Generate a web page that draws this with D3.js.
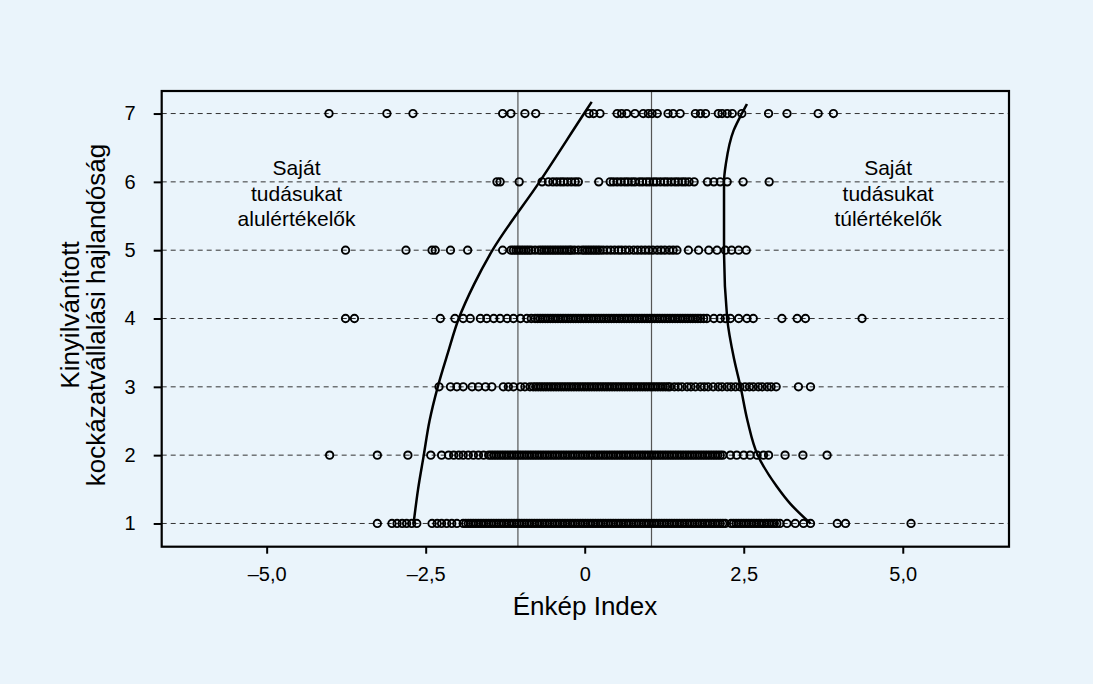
<!DOCTYPE html>
<html lang="hu">
<head>
<meta charset="utf-8">
<script src="https://cdn.jsdelivr.net/npm/d3@7"></script>
<style>
  html, body { margin: 0; padding: 0; background: #eaf4fb; }
  svg { display: block; font-family: "Liberation Sans", Arial, Helvetica, sans-serif; }
</style>
</head>
<body>
<div id="chart"></div>
<script>
// Kinyilvánított kockázatvállalási hajlandóság (1–7) vs. Énkép Index
const categories = [1, 2, 3, 4, 5, 6, 7];

const row1 = [-3.26, -3.03, -2.95, -2.87, -2.80, -2.72, -2.64, -2.40, -2.32, -2.25, -2.17, -2.09, -2.01,
  -1.91, -1.87, -1.83, -1.79, -1.75, -1.71, -1.67, -1.63, -1.59, -1.55, -1.51, -1.47, -1.43, -1.39, -1.35,
  -1.31, -1.27, -1.23, -1.19, -1.15, -1.11, -1.07, -1.03, -0.99, -0.95, -0.91, -0.87, -0.83, -0.79, -0.75,
  -0.71, -0.67, -0.63, -0.59, -0.55, -0.51, -0.47, -0.43, -0.39, -0.35, -0.31, -0.27, -0.23, -0.19, -0.15,
  -0.11, -0.07, -0.03, 0.01, 0.05, 0.09, 0.13, 0.17, 0.21, 0.25, 0.29, 0.33, 0.37, 0.41, 0.45, 0.49, 0.53,
  0.57, 0.61, 0.65, 0.69, 0.73, 0.77, 0.81, 0.85, 0.89, 0.93, 0.97, 1.01, 1.05, 1.09, 1.13, 1.17, 1.21,
  1.25, 1.29, 1.33, 1.37, 1.41, 1.45, 1.49, 1.53, 1.57, 1.61, 1.65, 1.69, 1.73, 1.77, 1.81, 1.85, 1.89,
  1.93, 1.97, 2.01, 2.05, 2.09, 2.13, 2.17, 2.21,
  2.30, 2.34, 2.38, 2.42, 2.46, 2.50, 2.54, 2.58, 2.62, 2.66, 2.70, 2.74, 2.78, 2.82, 2.86, 2.90, 2.94,
  2.98, 3.02, 3.07, 3.18, 3.31, 3.44, 3.55, 3.97, 4.10, 5.13];

const row2 = [-4.01, -3.26, -2.78, -2.42, -2.25, -2.14, -2.06, -1.98, -1.91, -1.83, -1.75, -1.67, -1.59,
  -1.51, -1.47, -1.43, -1.39, -1.35, -1.31, -1.27, -1.23, -1.19, -1.15, -1.11, -1.07, -1.03, -0.99, -0.95,
  -0.91, -0.87, -0.83, -0.79, -0.75, -0.71, -0.67, -0.63, -0.59, -0.55, -0.51, -0.47, -0.43, -0.39, -0.35,
  -0.31, -0.27, -0.23, -0.19, -0.15, -0.11, -0.07, -0.03, 0.01, 0.05, 0.09, 0.13, 0.17, 0.21, 0.25, 0.29,
  0.33, 0.37, 0.41, 0.45, 0.49, 0.53, 0.57, 0.61, 0.65, 0.69, 0.73, 0.77, 0.81, 0.85, 0.89, 0.93, 0.97,
  1.01, 1.05, 1.09, 1.13, 1.17, 1.21, 1.25, 1.29, 1.33, 1.37, 1.41, 1.45, 1.49, 1.53, 1.57, 1.61, 1.65,
  1.69, 1.73, 1.77, 1.81, 1.85, 1.89, 1.93, 1.97, 2.01, 2.05, 2.09, 2.13, 2.17,
  2.29, 2.39, 2.50, 2.60, 2.71, 2.81, 2.89, 3.15, 3.43, 3.81];

const row3 = [-2.29, -2.11, -2.01, -1.91, -1.77, -1.67, -1.56, -1.46, -1.28, -1.20, -1.12, -1.01, -0.94, -0.86,
  -0.81, -0.77, -0.73, -0.69, -0.65, -0.61, -0.57, -0.53, -0.49, -0.45, -0.41, -0.37, -0.33, -0.29, -0.25,
  -0.21, -0.17, -0.13, -0.09, -0.05, -0.01, 0.03, 0.07, 0.11, 0.15, 0.19, 0.23, 0.27, 0.31, 0.35, 0.39,
  0.43, 0.47, 0.51, 0.55, 0.59, 0.63, 0.67, 0.71, 0.75, 0.79, 0.83, 0.87, 0.91, 0.95, 0.99, 1.03, 1.07,
  1.11, 1.15, 1.19, 1.23, 1.27, 1.31, 1.34,
  1.41, 1.47, 1.53, 1.61, 1.67, 1.74, 1.82, 1.88, 1.94, 2.02, 2.10, 2.16, 2.24, 2.30, 2.37, 2.44, 2.52,
  2.59, 2.65, 2.73, 2.79, 2.87, 2.93, 3.01, 3.36, 3.55];

const row4 = [-3.76, -3.62, -2.27, -2.04, -1.91, -1.80, -1.64, -1.54, -1.43, -1.33, -1.22, -1.12, -1.01, -0.91, -0.84,
  -0.78, -0.74, -0.70, -0.66, -0.62, -0.58, -0.54, -0.50, -0.46, -0.42, -0.38, -0.34, -0.30, -0.26, -0.22,
  -0.18, -0.14, -0.10, -0.06, -0.02, 0.02, 0.06, 0.10, 0.14, 0.18, 0.22, 0.26, 0.30, 0.34, 0.38, 0.42,
  0.46, 0.50, 0.54, 0.58, 0.62, 0.66, 0.70, 0.74, 0.78, 0.82, 0.86, 0.90, 0.94, 0.98, 1.02, 1.06, 1.10,
  1.14, 1.18, 1.22, 1.26, 1.30, 1.34, 1.38, 1.42, 1.46, 1.50, 1.54, 1.58, 1.62, 1.66, 1.70, 1.74, 1.78,
  1.82, 1.87, 1.92, 2.03, 2.13, 2.21, 2.29, 2.42, 2.55, 2.65, 3.10, 3.34, 3.47, 4.36];

const row5 = [-3.76, -2.81, -2.40, -2.35, -2.11, -1.84, -1.29, -1.16,
  -1.12, -1.08, -1.04, -1.00, -0.96, -0.92, -0.88, -0.84, -0.78, -0.72, -0.68, -0.64, -0.60, -0.56, -0.52,
  -0.48, -0.44, -0.40, -0.36, -0.32, -0.28, -0.24, -0.21, -0.16, -0.10, -0.04, 0.00, 0.04, 0.08, 0.12,
  0.16, 0.20, 0.24, 0.29, 0.35, 0.41, 0.47, 0.53, 0.58, 0.64, 0.70, 0.77, 0.83, 0.89, 0.95, 1.01, 1.07,
  1.14, 1.20, 1.26, 1.33, 1.39, 1.45, 1.63, 1.79, 1.95, 2.08, 2.21, 2.31, 2.42, 2.54];

const row6 = [-1.38, -1.33, -1.03, -0.67, -0.57, -0.50, -0.44, -0.38, -0.33, -0.27, -0.21, -0.15, -0.10,
  0.22, 0.40, 0.45, 0.51, 0.57, 0.63, 0.68, 0.74, 0.79, 0.86, 0.91, 0.97, 1.02, 1.08, 1.13, 1.19, 1.25,
  1.30, 1.36, 1.42, 1.47, 1.53, 1.58, 1.64, 1.72, 1.93, 2.03, 2.13, 2.24, 2.49, 2.90];

const row7 = [-4.02, -3.11, -2.70, -1.29, -1.16, -0.94, -0.77, 0.07, 0.14, 0.24, 0.51, 0.58, 0.66, 0.79,
  0.92, 1.00, 1.06, 1.14, 1.31, 1.39, 1.50, 1.74, 1.82, 1.90, 2.10, 2.16, 2.24, 2.32, 2.47, 2.89, 3.18,
  3.67, 3.91];

const rows = [row1, row2, row3, row4, row5, row6, row7];

// Boundary curves: [level, index value]
const lowerBound = [[1.0, -2.69], [1.5, -2.62], [2.0, -2.53], [2.5, -2.44], [3.0, -2.31], [3.5, -2.15],
  [4.0, -1.98], [4.5, -1.74], [5.0, -1.45], [6.0, -0.71], [7.0, -0.01], [7.17, 0.11]];
const upperBound = [[1.0, 3.55], [1.29, 3.23], [1.54, 3.02], [2.0, 2.72], [2.5, 2.56], [3.0, 2.45],
  [3.4, 2.35], [4.0, 2.24], [5.0, 2.19], [6.0, 2.19], [6.27, 2.22], [6.75, 2.34], [7.0, 2.47], [7.14, 2.55]];

// Vertical reference lines at ±1,05
const refLines = [-1.05, 1.05];

const xTicks = [-5, -2.5, 0, 2.5, 5];
const xTickLabels = ["–5,0", "–2,5", "0", "2,5", "5,0"];
const yTicks = [1, 2, 3, 4, 5, 6, 7];

const xDomain = [-6.65, 6.67];
const yDomain = [0.66, 7.33];

const W = 1093, H = 684;
const plot = { left: 161.7, right: 1009, top: 91, bottom: 546.7 };

const svg = d3.select("#chart").append("svg")
  .attr("width", W).attr("height", H);

svg.append("rect").attr("width", W).attr("height", H).attr("fill", "#eaf4fb");

const x = d3.scaleLinear().domain(xDomain).range([plot.left, plot.right]);
const y = d3.scaleLinear().domain(yDomain).range([plot.bottom, plot.top]);

// dashed category lines
svg.append("g").selectAll("line").data(categories).join("line")
  .attr("x1", plot.left).attr("x2", plot.right)
  .attr("y1", d => y(d)).attr("y2", d => y(d))
  .attr("stroke", "#333").attr("stroke-width", 1)
  .attr("stroke-dasharray", "5,4");

// vertical reference lines
svg.append("g").selectAll("line").data(refLines).join("line")
  .attr("x1", d => x(d)).attr("x2", d => x(d))
  .attr("y1", plot.top).attr("y2", plot.bottom)
  .attr("stroke", "#555").attr("stroke-width", 1.2);

// observations
const pts = rows.flatMap((r, i) => r.map(v => ({ v, c: categories[i] })));
svg.append("g").selectAll("circle").data(pts).join("circle")
  .attr("cx", d => x(d.v)).attr("cy", d => y(d.c)).attr("r", 3.7)
  .attr("fill", "none").attr("stroke", "#000").attr("stroke-width", 1.9);

// boundary curves
const line = d3.line().x(d => x(d[1])).y(d => y(d[0])).curve(d3.curveMonotoneY);
[lowerBound, upperBound].forEach(b => {
  svg.append("path").datum(b).attr("d", line)
    .attr("fill", "none").attr("stroke", "#000").attr("stroke-width", 2.5);
});

// frame
svg.append("rect")
  .attr("x", plot.left).attr("y", plot.top)
  .attr("width", plot.right - plot.left).attr("height", plot.bottom - plot.top)
  .attr("fill", "none").attr("stroke", "#000").attr("stroke-width", 2.2);

// axes
const xAxis = d3.axisBottom(x).tickValues(xTicks)
  .tickFormat((d, i) => xTickLabels[i]).tickSize(7).tickPadding(13);
const gx = svg.append("g").attr("transform", `translate(0,${plot.bottom})`).call(xAxis);
gx.select(".domain").remove();
gx.selectAll(".tick line").attr("stroke", "#000").attr("stroke-width", 2);
gx.selectAll(".tick text").attr("font-size", 20).attr("fill", "#000")
  .attr("font-family", "Liberation Sans, Arial, sans-serif");

const yAxis = d3.axisLeft(y).tickValues(yTicks).tickFormat(d3.format("d"))
  .tickSize(8).tickPadding(18);
const gy = svg.append("g").attr("transform", `translate(${plot.left},0)`).call(yAxis);
gy.select(".domain").remove();
gy.selectAll(".tick line").attr("stroke", "#000").attr("stroke-width", 2);
gy.selectAll(".tick text").attr("font-size", 20).attr("fill", "#000")
  .attr("font-family", "Liberation Sans, Arial, sans-serif");

// axis titles
svg.append("text").attr("x", 585).attr("y", 615).attr("text-anchor", "middle")
  .attr("font-size", 26).text("Énkép Index");

const yTitle = svg.append("text").attr("text-anchor", "middle")
  .attr("transform", "translate(79,315) rotate(-90)").attr("font-size", 26);
yTitle.append("tspan").attr("x", 0).attr("dy", 0).text("Kinyilvánított");
yTitle.append("tspan").attr("x", 0).attr("dy", 26).text("kockázatvállalási hajlandóság");

// region annotations
const notes = [
  { cx: x(-4.53), lines: ["Saját", "tudásukat", "alulértékelők"] },
  { cx: x(4.77), lines: ["Saját", "tudásukat", "túlértékelők"] }
];
notes.forEach(n => {
  const t = svg.append("text").attr("text-anchor", "middle").attr("font-size", 21);
  n.lines.forEach((l, i) => {
    t.append("tspan").attr("x", n.cx).attr("y", 175 + i * 25.5).text(l);
  });
});
</script>
</body>
</html>
